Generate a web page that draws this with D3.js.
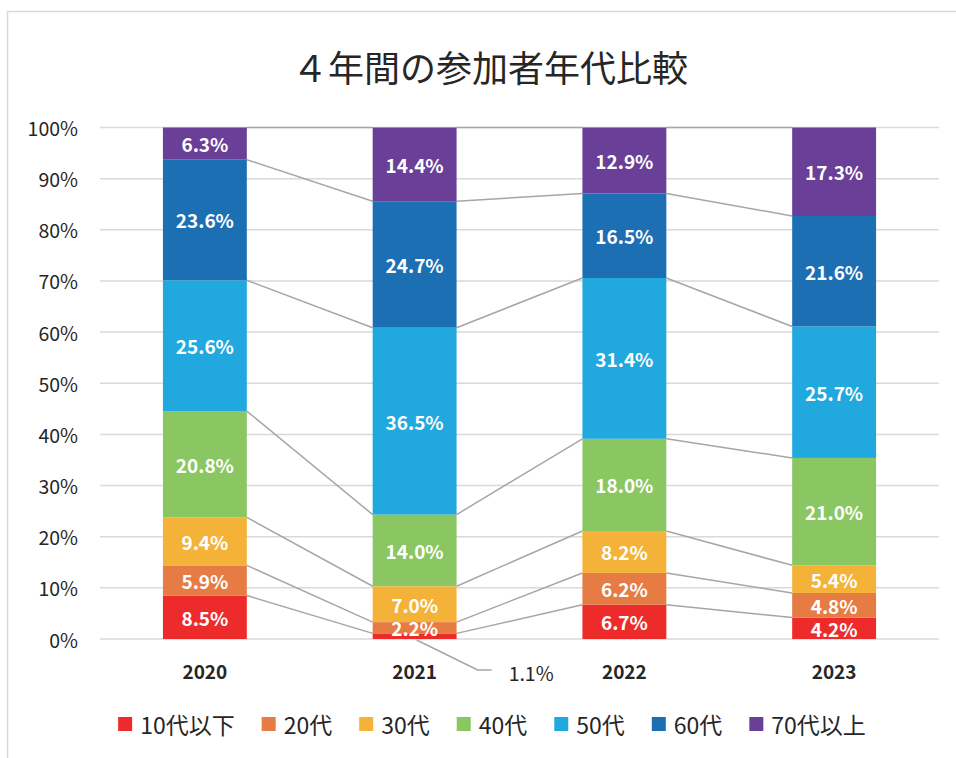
<!DOCTYPE html>
<html>
<head>
<meta charset="utf-8">
<script src="https://cdn.jsdelivr.net/npm/d3@7"></script>
<style>
  body { margin: 0; background: #fff; }
  svg { display: block; }
  .tick-label { font-family: "Noto Sans CJK JP", "Noto Sans", sans-serif; font-size: 19.5px; fill: #262626; }
  .cat-label { font-family: "Noto Sans CJK JP", "Noto Sans", sans-serif; font-size: 19px; font-weight: bold; fill: #262626; }
  .val-label { font-family: "Noto Sans CJK JP", "Noto Sans", sans-serif; font-size: 19px; font-weight: bold; fill: #fff; }
  .legend-label { font-family: "Noto Sans CJK JP", sans-serif; font-size: 23px; fill: #262626; }
  .title { font-family: "Noto Sans CJK JP", sans-serif; font-size: 36px; fill: #262626; }
</style>
</head>
<body>
<script>
//=====================DATA=====================

const years = ['2020', '2021', '2022', '2023']
const groups = ['10代以下', '20代', '30代', '40代', '50代', '60代', '70代以上']
const colors = ['#ee2b2b', '#e67c43', '#f4b338', '#8ac661', '#21a8de', '#1d6fb4', '#6a3f97']

// percentages per group, one value per year
const teens    = [8.5, 1.1, 6.7, 4.2]
const twenties = [5.9, 2.2, 6.2, 4.8]
const thirties = [9.4, 7.0, 8.2, 5.4]
const forties  = [20.8, 14.0, 18.0, 21.0]
const fifties  = [25.6, 36.5, 31.4, 25.7]
const sixties  = [23.6, 24.7, 16.5, 21.6]
const seventies = [6.3, 14.4, 12.9, 17.3]

const yTicks = [0, 0.1, 0.2, 0.3, 0.4, 0.5, 0.6, 0.7, 0.8, 0.9, 1]

const series = [teens, twenties, thirties, forties, fifties, sixties, seventies]

const rows = years.map((y, i) => {
	let row = {year: y}
	groups.forEach((g, j) => row[g] = series[j][i])
	return row
})

//=====================STRUCTURE=====================

const width = 956
const height = 758

const svg = d3.select('body')
.append('svg')
.attr('width', width)
.attr('height', height)

// chart frame
svg.append('rect')
.attr('x', 7.5)
.attr('y', 11.5)
.attr('width', width + 10)
.attr('height', height + 10)
.attr('fill', 'none')
.attr('stroke', '#d9d9d9')
.attr('stroke-width', 1.5)

svg.append('text')
.attr('class', 'title')
.attr('x', 490)
.attr('y', 66)
.attr('text-anchor', 'middle')
.attr('dominant-baseline', 'central')
.text('４年間の参加者年代比較')

const x = d3.scaleBand()
.domain(years)
.range([100, 939])
.paddingInner(0.6)
.paddingOuter(0.3)

const y = d3.scaleLinear()
.domain([0, 1])
.range([639, 127.5])

const stack = d3.stack()
.keys(groups)
.offset(d3.stackOffsetExpand)

const stacked = stack(rows)

//=====================GRID + AXES=====================

svg.append('g')
.selectAll('line')
.data(yTicks)
.enter()
.append('line')
.attr('x1', 100)
.attr('x2', 939)
.attr('y1', d => y(d))
.attr('y2', d => y(d))
.attr('stroke', '#d9d9d9')
.attr('stroke-width', 1.5)

svg.append('g')
.selectAll('text')
.data(yTicks)
.enter()
.append('text')
.attr('class', 'tick-label')
.attr('x', 78)
.attr('y', d => y(d))
.attr('text-anchor', 'end')
.attr('dominant-baseline', 'central')
.text(d3.format('.0%'))

svg.append('g')
.selectAll('text')
.data(years)
.enter()
.append('text')
.attr('class', 'cat-label')
.attr('x', d => x(d) + x.bandwidth() / 2)
.attr('y', 670)
.attr('text-anchor', 'middle')
.attr('dominant-baseline', 'central')
.text(d => d)

//=====================SERIES LINES=====================

const linesGroup = svg.append('g')

stacked.forEach(layer => {
	for(let i = 0; i < years.length - 1; i++)
	{
		linesGroup.append('line')
		.attr('x1', x(years[i]) + x.bandwidth())
		.attr('y1', y(layer[i][1]))
		.attr('x2', x(years[i + 1]))
		.attr('y2', y(layer[i + 1][1]))
		.attr('stroke', '#a6a6a6')
		.attr('stroke-width', 1.5)
	}
})

//=====================BARS=====================

const layers = svg.append('g')
.selectAll('g')
.data(stacked)
.enter()
.append('g')
.attr('fill', (d, i) => colors[i])

layers.selectAll('rect')
.data(d => d)
.enter()
.append('rect')
.attr('x', d => x(d.data.year))
.attr('y', d => y(d[1]))
.attr('width', x.bandwidth())
.attr('height', d => y(d[0]) - y(d[1]))

//=====================LABELS=====================

const fmt = d => d.toFixed(1) + '%'

stacked.forEach((layer, k) => {
	layer.forEach((d, i) => {
		let value = series[k][i]
		let cx = x(d.data.year) + x.bandwidth() / 2
		let cy = (y(d[0]) + y(d[1])) / 2

		if(value < 2)
		{
			// too thin: leader line out to the side
			let lx = cx + 63
			let ly = 670
			svg.append('polyline')
			.attr('points', `${cx + 2},${y(d[0]) + 1} ${lx},${ly} ${lx + 14},${ly}`)
			.attr('fill', 'none')
			.attr('stroke', '#a6a6a6')
			.attr('stroke-width', 1.5)

			svg.append('text')
			.attr('class', 'tick-label')
			.attr('x', lx + 31)
			.attr('y', ly + 2)
			.attr('dominant-baseline', 'central')
			.text(fmt(value))
		}
		else
		{
			svg.append('text')
			.attr('class', 'val-label')
			.attr('x', cx)
			.attr('y', cy)
			.attr('text-anchor', 'middle')
			.attr('dominant-baseline', 'central')
			.text(fmt(value))
		}
	})
})

//=====================LEGEND=====================

const legend = svg.append('g')

let cursor = 0
groups.forEach((g, i) => {
	let item = legend.append('g').attr('transform', `translate(${cursor},0)`)
	item.append('rect')
	.attr('x', 0)
	.attr('y', -7)
	.attr('width', 14)
	.attr('height', 14)
	.attr('fill', colors[i])
	let t = item.append('text')
	.attr('class', 'legend-label')
	.attr('x', 22)
	.attr('y', 0)
	.attr('dominant-baseline', 'central')
	.text(g)
	cursor += 22 + t.node().getComputedTextLength() + 27
})

const legendWidth = cursor - 27
legend.attr('transform', `translate(${492 - legendWidth / 2},724)`)
</script>
</body>
</html>
